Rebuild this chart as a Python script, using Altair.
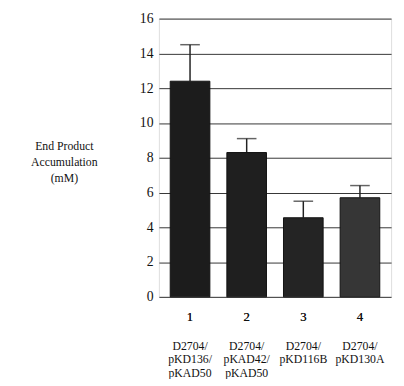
import altair as alt
import pandas as pd

numbers = ["1", "2", "3", "4"]
strains = ["D2704/\npKD136/\npKAD50", "D2704/\npKAD42/\npKAD50", "D2704/\npKD116B", "D2704/\npKD130A"]
values = [12.4, 8.3, 4.55, 5.7]
errors = [2.1, 0.8, 0.95, 0.7]
colors = ["#1c1c1c", "#1f1f1f", "#242424", "#363636"]

labels = [n + "\n" + s for n, s in zip(numbers, strains)]
df = pd.DataFrame({
    "label": labels,
    "value": values,
    "upper": [v + e for v, e in zip(values, errors)],
    "color": colors,
})

font = "Liberation Serif"

common_x = dict(labelAngle=0, labelFont=font, labelColor="#111", orient="bottom",
                labelFontWeight="normal",
                labelBaseline="top", ticks=False, domain=False, grid=False)
x_num = alt.Axis(labelExpr="split(datum.label, '\\n')[0]", labelFontSize=13,
                 labelPadding=14, **common_x)
x_desc = alt.Axis(labelExpr="slice(split(datum.label, '\\n'), 1)", labelFontSize=12,
                  labelLineHeight=13.5, labelPadding=14, offset=31, **common_x)
xscale = alt.Scale(paddingInner=0.3, paddingOuter=0.2)

y_axis = alt.Axis(values=[0, 2, 4, 6, 8, 10, 12, 14, 16], labelOverlap=False,
                  labelFont=font, labelFontSize=14, labelColor="#111",
                  labelPadding=6, ticks=False, domain=False,
                  grid=True, gridColor="#333", gridWidth=1, gridOpacity=1,
                  titleAngle=0, titleAlign="center", titleBaseline="top",
                  titleX=-97, titleY=125, titleFont=font, titleFontSize=12,
                  titleFontWeight="normal", titleColor="#111",
                  titleLineHeight=16)
yscale = alt.Scale(domain=[0, 16])
ytitle = ["End Product", "Accumulation", "(mM)"]

base = alt.Chart(df)

bars = base.mark_bar(stroke="#111", strokeWidth=1).encode(
    x=alt.X("label:N", sort=labels, title=None, scale=xscale, axis=x_num),
    y=alt.Y("value:Q", scale=yscale, title=ytitle, axis=y_axis),
    color=alt.Color("color:N", scale=None))

err = base.mark_rule(color="#222", strokeWidth=1.5).encode(
    x=alt.X("label:N", sort=labels, title=None, scale=xscale, axis=x_num),
    y=alt.Y("value:Q", scale=yscale, title=ytitle, axis=y_axis),
    y2="upper:Q")

cap = base.mark_tick(color="#222", thickness=1.5, size=20, orient="horizontal").encode(
    x=alt.X("label:N", sort=labels, title=None, scale=xscale, axis=x_desc),
    y=alt.Y("upper:Q", scale=yscale, title=ytitle, axis=y_axis))

chart = alt.layer(err, bars, cap).resolve_scale(x="shared").resolve_axis(
    x="independent", y="shared").properties(
    width=237, height=284,
    autosize=alt.AutoSizeParams(type="none"),
    padding={"left": 154, "top": 7, "right": 5, "bottom": 80},
).configure_view(stroke="#222", strokeWidth=1.5).configure(background="white")

chart.save("out.html", embed_options={"renderer": "svg", "actions": False})
